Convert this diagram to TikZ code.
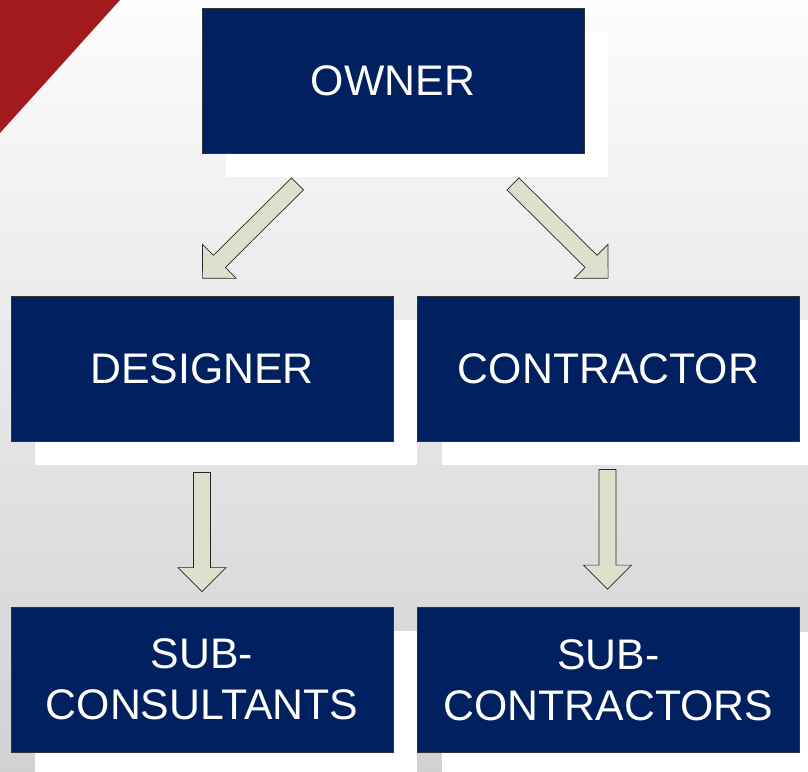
\documentclass[tikz,border=0pt]{standalone}
\usepackage{fontspec}
\setmainfont{Liberation Sans}
\usetikzlibrary{calc,shadows,positioning}
\definecolor{boxColor}{RGB}{0,32,96}
\definecolor{arrowFill}{RGB}{221,224,204}
\definecolor{cornerRed}{RGB}{162,26,30}
\colorlet{arrowLine}{black!85}
\colorlet{bgTop}{black!1}
\colorlet{bgMid}{black!7}
\colorlet{bgBottom}{black!18}
\tikzset{
  orgbox/.style={fill=boxColor, draw=black!80, line width=0.8pt, text=white,
    minimum width=382pt, minimum height=145pt, inner sep=0pt, align=center,
    font=\fontsize{42.8}{51}\selectfont,
    drop shadow={shadow xshift=24pt, shadow yshift=-24pt, fill=white, opacity=1}},
  blockarrow/.style={draw=arrowLine, fill=arrowFill, line width=0.7pt,
    to path={let \p1=(\tikztostart), \p2=(\tikztotarget),
      \n1={atan2(\y2-\y1,\x2-\x1)}, \n2={veclen(\x2-\x1,\y2-\y1)-24},
      \n3={veclen(\x2-\x1,\y2-\y1)} in
      ([shift={(\p1)},rotate=\n1]0pt,8.5pt)
      -- ([shift={(\p1)},rotate=\n1]\n2,8.5pt)
      -- ([shift={(\p1)},rotate=\n1]\n2,24pt)
      -- ([shift={(\p1)},rotate=\n1]\n3,0pt)
      -- ([shift={(\p1)},rotate=\n1]\n2,-24pt)
      -- ([shift={(\p1)},rotate=\n1]\n2,-8.5pt)
      -- ([shift={(\p1)},rotate=\n1]0pt,-8.5pt) -- cycle}}
}

\begin{document}
\begin{tikzpicture}[x=1pt,y=-1pt]
    \useasboundingbox (0,0) rectangle (808,771);
    % background and corner
    \shade [top color=bgTop, middle color=bgMid, bottom color=bgBottom] (0,0) rectangle (808,771);
    \fill [cornerRed] (0,0) -- (120,0) -- (0,133) -- cycle;
    % boxes
    \node [orgbox] (owner) at (393,80.5) {OWNER};
    \node [orgbox] (designer) at (202,368.5) {DESIGNER};
    \node [orgbox] (contractor) at (608.5,368.5) {CONTRACTOR};
    \node [orgbox] (subcons) at (202,679.5) {SUB-\\CONSULTANTS};
    \node [orgbox] (subcontr) at (608.5,680) {SUB-\\CONTRACTORS};
    % arrow ends
    \coordinate (dsgTail) at ($(owner.south)+(-95.5,30.5)$);
    \coordinate (dsgTip) at ($(designer.north)+(0,-17)$);
    \coordinate (ctrTail) at ($(owner.south)+(120,30.5)$);
    \coordinate (ctrTip) at ($(contractor.north)+(0,-17)$);
    \coordinate (consTail) at ($(designer.south)+(0,31)$);
    \coordinate (consTip) at ($(subcons.north)+(0,-15)$);
    \coordinate (subTail) at ($(contractor.south)+(-1,28)$);
    \coordinate (subTip) at ($(subcontr.north)+(-1,-18)$);
    % arrows
    \draw [blockarrow] (dsgTail) to (dsgTip);
    \draw [blockarrow] (ctrTail) to (ctrTip);
    \draw [blockarrow] (consTail) to (consTip);
    \draw [blockarrow] (subTail) to (subTip);
\end{tikzpicture}
\end{document}
